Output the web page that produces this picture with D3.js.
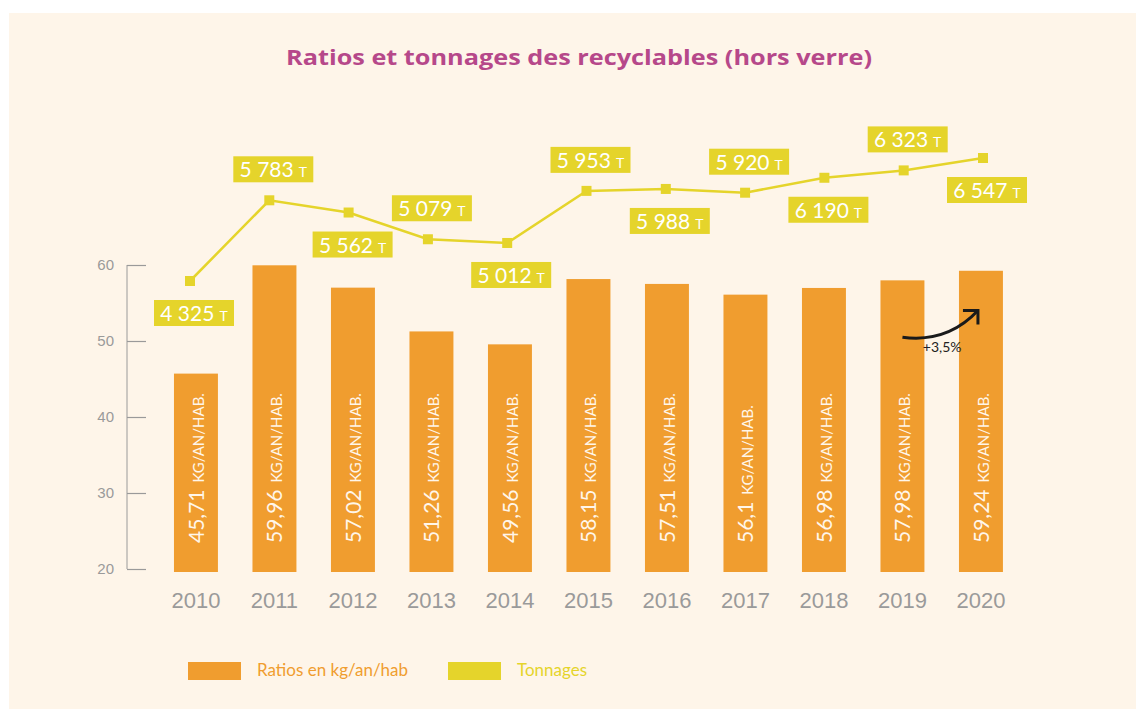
<!DOCTYPE html>
<html>
<head>
<meta charset="utf-8">
<script src="https://cdn.jsdelivr.net/npm/d3@7"></script>
<style>
  body { margin: 0; background: #ffffff; }
  text { font-family: Lato, "Open Sans", sans-serif; }
</style>
</head>
<body>
<div id="chart_wrapper"></div>
<script>
// data
var years = ["2010", "2011", "2012", "2013", "2014", "2015", "2016", "2017", "2018", "2019", "2020"];
var ratios = [45.71, 59.96, 57.02, 51.26, 49.56, 58.15, 57.51, 56.1, 56.98, 57.98, 59.24];
var tonnages = [4325, 5783, 5562, 5079, 5012, 5953, 5988, 5920, 6190, 6323, 6547];
var labelSide = ["below", "above", "below", "above", "below", "above", "below", "above", "below", "above", "below"];
var yTicks = [20, 30, 40, 50, 60];

var wrapperWidth = 1136,
    wrapperHeight = 709;

var orange = "#f09d2f",
    yellow = "#e5d42b",
    bg = "#fef5e9";

var svg = d3.select("#chart_wrapper").append("svg")
    .attr("width", wrapperWidth)
    .attr("height", wrapperHeight);

svg.append("rect")
    .attr("x", 9).attr("y", 13)
    .attr("width", wrapperWidth - 9).attr("height", wrapperHeight - 13)
    .attr("fill", bg);

svg.append("text")
    .attr("x", 579).attr("y", 65)
    .attr("text-anchor", "middle")
    .attr("fill", "#b6488a")
    .attr("textLength", 586)
    .attr("lengthAdjust", "spacingAndGlyphs")
    .style("font-family", "'Open Sans', sans-serif")
    .style("font-size", "22px")
    .style("font-weight", "bold")
    .text("Ratios et tonnages des recyclables (hors verre)");

// scales
var x = d3.scaleBand()
    .domain(years)
    .range([156.7, 1020.2])
    .paddingInner(0.44)
    .paddingOuter(0.22);

var xLine = d3.scalePoint()
    .domain(years)
    .range([190, 983]);

var y = d3.scaleLinear()
    .domain([20, 60])
    .range([569, 265]);

var yT = d3.scaleLinear()
    .domain([4325, 6547])
    .range([281, 158]);

// y axis
var yAxis = svg.append("g")
    .attr("transform", "translate(127,0)")
    .call(d3.axisRight(y).tickValues(yTicks).tickSize(19).tickFormat(""));
yAxis.select(".domain").attr("stroke", "#9a9a9a").attr("d", "M0," + y(60) + "V" + y(20));
yAxis.selectAll(".tick line").attr("stroke", "#9a9a9a").attr("stroke-width", 1.2);

svg.append("g").selectAll("text")
    .data(yTicks)
    .enter().append("text")
    .attr("x", 114)
    .attr("y", function(d) { return y(d) + 5; })
    .attr("text-anchor", "end")
    .attr("fill", "#9a9a9a")
    .style("font-family", "'Liberation Sans', Arial, sans-serif")
    .style("font-size", "15px")
    .text(function(d) { return d; });

// bars
var bars = svg.append("g").selectAll("g")
    .data(years)
    .enter().append("g");

bars.append("rect")
    .attr("x", function(d) { return x(d); })
    .attr("y", function(d, i) { return y(ratios[i]); })
    .attr("width", x.bandwidth())
    .attr("height", function(d, i) { return y(20) + 3 - y(ratios[i]); })
    .attr("fill", orange);

var barText = bars.append("text")
    .attr("transform", function(d) {
      return "translate(" + (x(d) + x.bandwidth() / 2 + 8) + "," + (y(20) - 26) + ") rotate(-90)";
    })
    .attr("fill", "#fff6ea");
barText.append("tspan")
    .style("font-size", "21px")
    .text(function(d, i) { return String(ratios[i]).replace(".", ","); });
barText.append("tspan")
    .attr("dx", 7)
    .style("font-size", "15px")
    .text("KG/AN/HAB.");

// years
svg.append("g").selectAll("text")
    .data(years)
    .enter().append("text")
    .attr("x", function(d) { return x(d) + x.bandwidth() / 2; })
    .attr("y", 608)
    .attr("text-anchor", "middle")
    .attr("fill", "#9a9a9a")
    .style("font-family", "'Liberation Sans', Arial, sans-serif")
    .style("font-size", "22px")
    .text(function(d) { return d; });

// tonnage line
var line = d3.line()
    .x(function(d, i) { return xLine(years[i]); })
    .y(function(d) { return yT(d); });

svg.append("path")
    .datum(tonnages)
    .attr("d", line)
    .attr("fill", "none")
    .attr("stroke", yellow)
    .attr("stroke-width", 2.5);

svg.append("g").selectAll("rect")
    .data(tonnages)
    .enter().append("rect")
    .attr("x", function(d, i) { return xLine(years[i]) - 5; })
    .attr("y", function(d) { return yT(d) - 5; })
    .attr("width", 10)
    .attr("height", 10)
    .attr("fill", yellow);

var fmt = d3.formatLocale({ decimal: ",", thousands: " ", grouping: [3], currency: ["", ""] }).format(",");

var labels = svg.append("g").selectAll("g")
    .data(tonnages)
    .enter().append("g")
    .attr("transform", function(d, i) {
      var cx = xLine(years[i]) + 4;
      var top = labelSide[i] == "above" ? yT(d) - 18 - 26 : yT(d) + 19;
      return "translate(" + cx + "," + top + ")";
    });

labels.append("rect")
    .attr("x", -40)
    .attr("width", 80)
    .attr("height", 26)
    .attr("fill", yellow);

var lt = labels.append("text")
    .attr("y", 21)
    .attr("text-anchor", "middle")
    .attr("fill", "#ffffff");
lt.append("tspan")
    .style("font-size", "21px")
    .text(function(d) { return fmt(d); });
lt.append("tspan")
    .attr("dx", 5)
    .style("font-size", "14px")
    .text("T");

// +3,5% annotation between 2019 and 2020
var ax0 = x("2019") + x.bandwidth() / 2,
    ax1 = x("2020") + x.bandwidth() / 2 - 3,
    ay0 = y(50.5),
    ay1 = y(54);
svg.append("path")
    .attr("d", "M" + ax0 + "," + ay0 + " Q" + (ax0 + 45) + "," + (ay0 + 6) + " " + ax1 + "," + ay1)
    .attr("fill", "none")
    .attr("stroke", "#1a1a1a")
    .attr("stroke-width", 3);
svg.append("path")
    .attr("d", "M" + (ax1 - 15) + "," + ay1 + " L" + ax1 + "," + ay1 + " L" + ax1 + "," + (ay1 + 14))
    .attr("fill", "none")
    .attr("stroke", "#1a1a1a")
    .attr("stroke-width", 3);
svg.append("text")
    .attr("x", (ax0 + ax1) / 2 + 2)
    .attr("y", ay0 + 15)
    .attr("text-anchor", "middle")
    .attr("fill", "#222")
    .style("font-size", "14px")
    .text("+3,5%");

// legend
var legend = [
  { label: "Ratios en kg/an/hab", color: orange, x: 188 },
  { label: "Tonnages", color: yellow, x: 448 }
];
var lg = svg.append("g").selectAll("g")
    .data(legend)
    .enter().append("g")
    .attr("transform", function(d) { return "translate(" + d.x + ",662)"; });
lg.append("rect")
    .attr("width", 53)
    .attr("height", 18)
    .attr("fill", function(d) { return d.color; });
lg.append("text")
    .attr("x", 69)
    .attr("y", 14)
    .attr("fill", function(d) { return d.color; })
    .style("font-size", "17px")
    .text(function(d) { return d.label; });
</script>
</body>
</html>
